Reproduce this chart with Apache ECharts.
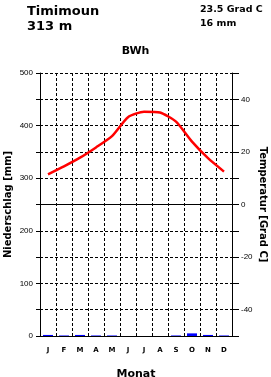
<!DOCTYPE html>
<html>
<head>
<meta charset="utf-8">
<script src="https://cdn.jsdelivr.net/npm/echarts@6/dist/echarts.min.js"></script>
<style>
  html, body { margin: 0; padding: 0; background: #fff; }
  #chart { width: 271px; height: 377px; }
</style>
</head>
<body>
<div id="chart"></div>
<script>
// Klimadiagramm Timimoun
const months = ['J', 'F', 'M', 'A', 'M', 'J', 'J', 'A', 'S', 'O', 'N', 'D'];
const temperatur = [11.5, 14.5, 17.8, 21.7, 26.0, 33.2, 35.3, 35.0, 31.5, 23.9, 17.6, 12.5];
const niederschlag = [2, 1, 2, 1, 1, 0, 0, 0, 1, 5, 2, 1];
const mmLabels = [0, 100, 200, 300, 400, 500];
const tempLabels = [-40, -20, 0, 20, 40];

const station = 'Timimoun';
const hoehe = '313 m';
const jahresTemp = '23.5 Grad C';
const jahresNied = '16 mm';
const klima = 'BWh';

const font = 'DejaVu Sans';
const labelFont = 'Liberation Sans';

let myChart = echarts.init(document.getElementById('chart'));
let option = {
    backgroundColor: '#fff',
    animation: false,
    title: [
        { text: station, left: 22, top: 0, textStyle: { fontFamily: font, fontSize: 13, fontWeight: 'bold', color: '#000' } },
        { text: hoehe, left: 22, top: 15, textStyle: { fontFamily: font, fontSize: 13, fontWeight: 'bold', color: '#000' } },
        { text: jahresTemp, left: 195, top: 0, textStyle: { fontFamily: font, fontSize: 9.5, fontWeight: 'bold', color: '#000' } },
        { text: jahresNied, left: 195, top: 14, textStyle: { fontFamily: font, fontSize: 9.5, fontWeight: 'bold', color: '#000' } },
        { text: klima, left: 'center', top: 41, textStyle: { fontFamily: font, fontSize: 11, fontWeight: 'bold', color: '#000' } }
    ],
    grid: { left: 40, right: 39, top: 73, bottom: 41, outerBoundsMode: 'none', containLabel: false },
    xAxis: {
        type: 'category',
        data: months,
        boundaryGap: true,
        axisLine: { lineStyle: { color: '#000', width: 1 } },
        axisTick: { show: false },
        axisLabel: { fontFamily: font, fontSize: 7, fontWeight: 'bold', color: '#000', margin: 11 },
        splitLine: { show: true, lineStyle: { color: '#000', type: [3, 2], width: 1 } },
        name: 'Monat',
        nameLocation: 'middle',
        nameGap: 33,
        nameMoveOverlap: false,
        nameTextStyle: { fontFamily: font, fontSize: 11, fontWeight: 'bold', color: '#000' }
    },
    yAxis: [
        {
            type: 'value',
            min: 0,
            max: 500,
            interval: 50,
            position: 'left',
            axisLine: { show: true, lineStyle: { color: '#000', width: 1 } },
            axisTick: { show: true, length: 4, lineStyle: { color: '#000' } },
            axisLabel: {
                fontFamily: labelFont, fontSize: 8, color: '#000', margin: 7,
                formatter: v => mmLabels.includes(v) ? String(v) : ''
            },
            splitLine: { show: true, lineStyle: { color: '#000', type: [3, 2], width: 1 } },
            name: 'Niederschlag [mm]',
            nameLocation: 'middle',
            nameGap: 27,
            nameMoveOverlap: false,
            nameRotate: 90,
            nameTextStyle: { fontFamily: font, fontSize: 10, fontWeight: 'bold', color: '#000' }
        },
        {
            type: 'value',
            min: -50,
            max: 50,
            interval: 10,
            position: 'right',
            axisLine: { show: true, lineStyle: { color: '#000', width: 1 } },
            axisTick: { show: true, length: 7, lineStyle: { color: '#000' } },
            axisLabel: {
                fontFamily: labelFont, fontSize: 8, color: '#000', margin: 9,
                formatter: v => tempLabels.includes(v) ? String(v) : ''
            },
            splitLine: { show: false },
            name: 'Temperatur [Grad C]',
            nameLocation: 'middle',
            nameGap: 26,
            nameMoveOverlap: false,
            nameRotate: -90,
            nameTextStyle: { fontFamily: font, fontSize: 10, fontWeight: 'bold', color: '#000' }
        }
    ],
    series: [
        {
            name: 'Niederschlag',
            type: 'bar',
            yAxisIndex: 0,
            data: niederschlag,
            barWidth: 10,
            z: 6,
            itemStyle: { color: '#0000ff' }
        },
        {
            name: 'Temperatur',
            type: 'line',
            yAxisIndex: 1,
            data: temperatur,
            smooth: 0.2,
            showSymbol: false,
            lineStyle: { color: '#ff0000', width: 2.5 },
            z: 5,
            markLine: {
                silent: true,
                symbol: 'none',
                label: { show: false },
                lineStyle: { color: '#000', type: 'solid', width: 1 },
                data: [{ yAxis: 0 }]
            }
        }
    ]
};
myChart.setOption(option, true);
</script>
</body>
</html>
